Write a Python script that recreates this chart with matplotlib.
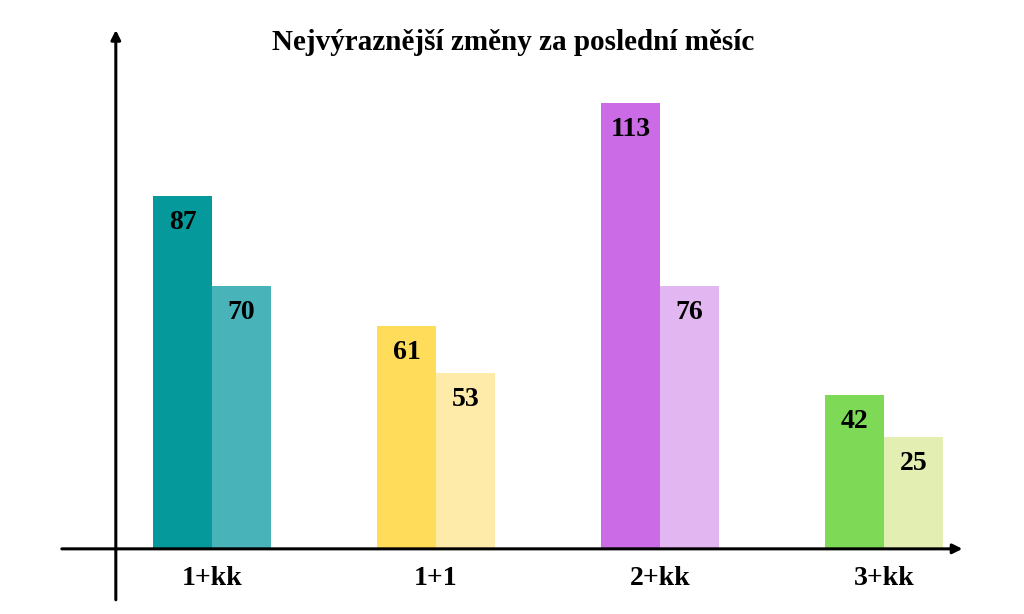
import numpy as np
import matplotlib.pyplot as plt

# data
categories = ['1+kk', '1+1', '2+kk', '3+kk']
labels_first = ['87', '61', '113', '42']
labels_second = ['70', '53', '76', '25']
heights_first = [89.4, 56.5, 112.9, 39.0]
heights_second = [66.6, 44.6, 66.6, 28.4]
colors_first = ['#06999c', '#ffdd5a', '#cb6ce6', '#7ed957']
colors_second = ['#48b3b8', '#feebaa', '#e2b6f0', '#e3efb2']
title = 'Nejvýraznější změny za poslední měsíc'

plt.rcParams['font.family'] = ['Liberation Serif', 'DejaVu Serif']

fig = plt.figure(figsize=(10.24, 6.14), dpi=100)
ax = fig.add_axes([0, 0, 1, 1])
ax.set_xlim(-0.946, 3.625)
ax.set_ylim(-16.5, 139)
ax.axis('off')

x = np.arange(len(categories))
w = 0.263
b1 = ax.bar(x - w / 2, heights_first, w, color=colors_first)
b2 = ax.bar(x + w / 2, heights_second, w, color=colors_second)

for bars, labs in ((b1, labels_first), (b2, labels_second)):
    for rect, lab in zip(bars, labs):
        ax.annotate(lab, (rect.get_x() + rect.get_width() / 2, rect.get_height()),
                    xytext=(0, -19), textcoords='offset points',
                    ha='center', va='center', fontsize=20, fontweight='bold')

for xi, cat in zip(x, categories):
    ax.annotate(cat, (xi, 0), xytext=(0, -21), textcoords='offset points',
                ha='center', va='center', fontsize=20, fontweight='bold')

# axes with arrows
arrow = dict(arrowstyle='-|>', lw=2.2, color='black', mutation_scale=14, shrinkA=0, shrinkB=0)
ax.annotate('', xy=(-0.429, 131.4), xytext=(-0.429, -12.9), arrowprops=arrow)
ax.annotate('', xy=(3.35, 0), xytext=(-0.67, 0), arrowprops=arrow)

ax.text(1.344, 128.2, title, ha='center', va='center', fontsize=21, fontweight='bold')

fig.savefig('out.png', dpi=100)
